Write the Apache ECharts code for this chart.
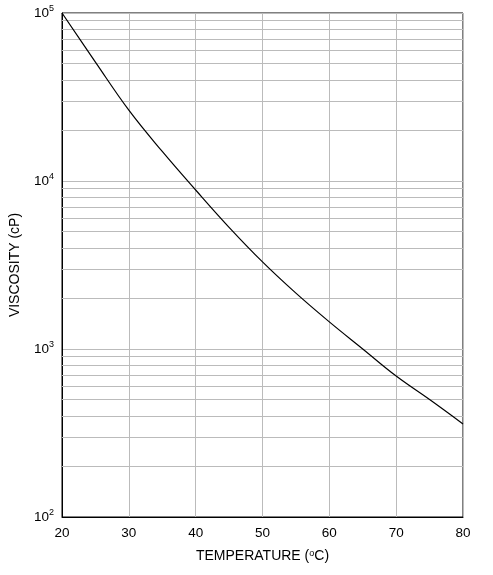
<!DOCTYPE html>
<html><head><meta charset="utf-8">
<script src="https://cdn.jsdelivr.net/npm/echarts@6/dist/echarts.min.js"></script>
<style>html,body{margin:0;padding:0;background:#fff}#c{width:493px;height:575px}</style>
</head><body><div id="c"></div>
<script>
const temperature = [20, 25, 30, 35, 40, 45, 50, 55, 60, 65, 70, 75, 80];
const viscosity = [100000, 51000, 26400, 15000, 8840, 5300, 3300, 2150, 1450, 1000, 690, 500, 358];
const minorGrid = [];
[100, 1000, 10000].forEach(d => { for (let k = 2; k <= 9; k++) minorGrid.push(d * k); });
const chart = echarts.init(document.getElementById('c'));
chart.setOption({
  animation: false,
  grid: {left: 55, right: 30, top: 13, bottom: 58, show: true, borderColor: '#000', borderWidth: 1},
  xAxis: {
    type: 'value', min: 20, max: 80, interval: 10,
    name: 'TEMPERATURE ({s|o}C)', nameLocation: 'middle', nameGap: 32,
    nameTextStyle: {fontFamily: 'Liberation Sans', fontSize: 14, color: '#000', rich: {s: {fontSize: 9, verticalAlign: 'top', padding: [0,0,6,0]}}},
    axisLine: {lineStyle: {color: '#000'}}, axisTick: {show: false},
    axisLabel: {fontFamily: 'Liberation Sans', fontSize: 13.5, color: '#000', margin: 9},
    splitLine: {lineStyle: {color: '#bbb'}}
  },
  yAxis: {
    type: 'log', logBase: 10, min: 100, max: 100000,
    name: 'VISCOSITY (cP)', nameLocation: 'middle', nameGap: 40, nameRotate: 90,
    nameTextStyle: {fontFamily: 'Liberation Sans', fontSize: 14, color: '#000'},
    axisLine: {lineStyle: {color: '#000'}}, axisTick: {show: false},
    axisLabel: {fontFamily: 'Liberation Sans', fontSize: 13.5, color: '#000',
      formatter: v => { const e = Math.round(Math.log10(v)); return '10{s|' + e + '}'; },
      rich: {s: {fontSize: 9, verticalAlign: 'top', padding: [0,0,8,0]}}},
    splitLine: {lineStyle: {color: '#bbb'}}
  },
  series: [{
    type: 'line', data: [], z: 1,
    markLine: {silent: true, symbol: 'none', label: {show: false}, z: 1,
      lineStyle: {color: '#bbb', type: 'solid', width: 1},
      data: minorGrid.map(v => ({yAxis: v}))}
  }, {
    type: 'line', data: temperature.map((t, i) => [t, viscosity[i]]), z: 5,
    smooth: 0.4, showSymbol: false, lineStyle: {color: '#000', width: 1.2}
  }]
});
</script></body></html>
